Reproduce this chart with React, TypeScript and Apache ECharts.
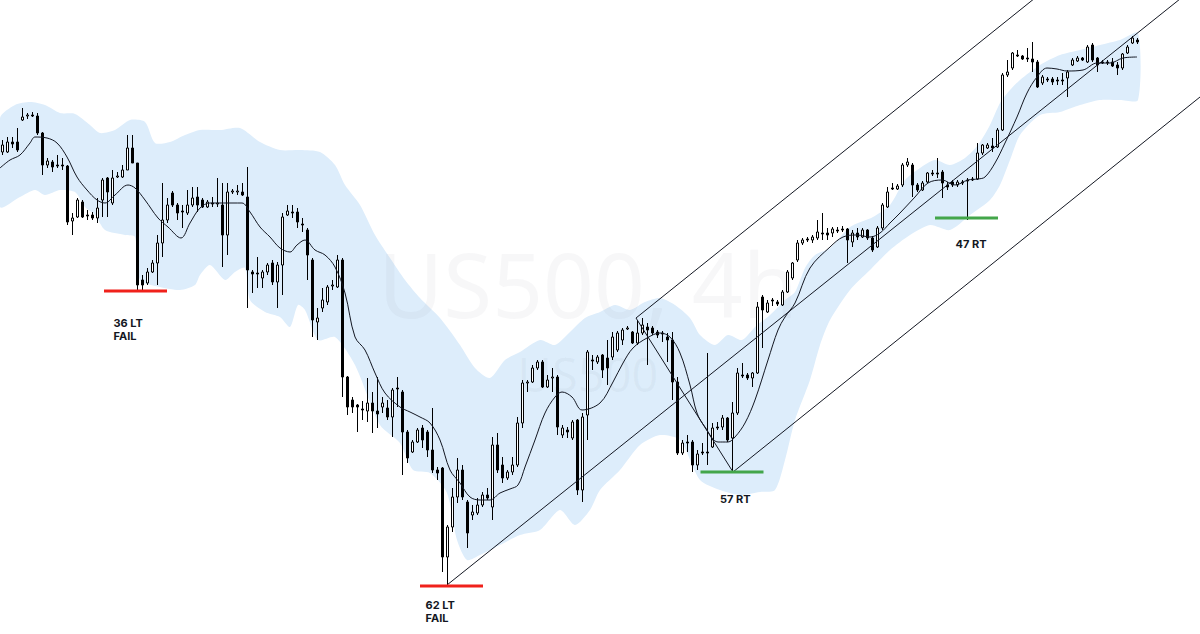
import React, { useEffect, useRef } from "react";
import * as echarts from "echarts";

// ---- Candles (US500, 4h) ----
const OPEN = [4448,4448,4458,4458,4480,4484,4485,4484,4467,4435,4438,4435,4435,4434,4379,4383,4398,4385,4385,4382,4400,4422,4397,4423,4423,4430,4452,4437,4320,4317,4328,4337,4357,4380,4407,4395,4389,4387,4395,4403,4400,4393,4397,4396,4395,4365,4408,4408,4408,4403,4328,4327,4322,4328,4337,4318,4335,4385,4388,4388,4376,4370,4340,4278,4292,4298,4314,4313,4340,4223,4200,4195,4191,4189,4197,4189,4193,4192,4183,4212,4208,4168,4148,4158,4172,4168,4150,4130,4132,4043,4073,4103,4130,4098,4085,4087,4095,4105,4093,4155,4135,4122,4128,4135,4177,4217,4218,4232,4238,4213,4222,4223,4165,4170,4162,4180,4110,4185,4240,4238,4245,4242,4243,4250,4260,4271,4268,4257,4267,4273,4272,4268,4267,4263,4260,4218,4147,4158,4158,4135,4148,4148,4153,4173,4173,4182,4162,4187,4225,4225,4222,4227,4303,4288,4300,4298,4295,4308,4322,4340,4357,4361,4360,4362,4367,4367,4367,4370,4371,4371,4358,4367,4363,4370,4362,4353,4372,4393,4412,4411,4415,4435,4435,4415,4410,4418,4427,4427,4428,4415,4418,4415,4418,4420,4421,4421,4447,4452,4454,4453,4470,4525,4532,4545,4544,4542,4541,4538,4517,4521,4521,4520,4520,4522,4535,4539,4542,4538,4555,4542,4538,4538,4538,4535,4532,4547,4557,4560];
const CLOSE = [4455,4458,4456,4450,4483,4485,4484,4467,4435,4439,4433,4434,4434,4378,4382,4400,4383,4384,4382,4392,4420,4408,4422,4424,4430,4452,4437,4315,4315,4328,4337,4357,4380,4395,4395,4387,4388,4395,4402,4395,4393,4398,4396,4397,4365,4408,4409,4409,4405,4330,4326,4326,4328,4335,4318,4335,4383,4389,4387,4378,4375,4345,4280,4282,4300,4313,4315,4340,4223,4193,4193,4193,4190,4197,4189,4186,4197,4183,4210,4211,4168,4142,4158,4170,4160,4150,4130,4127,4043,4073,4103,4130,4103,4067,4088,4095,4105,4102,4155,4130,4122,4128,4135,4177,4217,4218,4232,4238,4213,4220,4223,4173,4172,4168,4178,4110,4183,4248,4239,4243,4230,4232,4263,4267,4270,4272,4257,4267,4275,4270,4267,4265,4266,4260,4218,4147,4157,4157,4135,4146,4147,4147,4172,4172,4182,4160,4187,4227,4224,4222,4227,4293,4290,4297,4299,4296,4308,4328,4337,4357,4360,4360,4363,4368,4366,4365,4371,4369,4370,4360,4367,4363,4370,4362,4350,4372,4395,4408,4411,4414,4435,4438,4415,4410,4417,4427,4426,4426,4417,4413,4415,4418,4417,4419,4420,4447,4455,4455,4452,4470,4525,4528,4547,4544,4541,4541,4538,4513,4523,4520,4518,4519,4519,4528,4540,4542,4540,4553,4540,4535,4537,4537,4534,4532,4546,4553,4562,4558];
const LOW = [4445,4447,4452,4448,4479,4481,4483,4465,4425,4432,4428,4432,4430,4375,4365,4382,4382,4380,4380,4377,4383,4383,4395,4422,4422,4430,4437,4310,4310,4315,4327,4315,4343,4377,4393,4380,4372,4385,4393,4388,4392,4392,4393,4393,4333,4345,4406,4405,4404,4292,4307,4312,4312,4325,4315,4292,4305,4384,4382,4372,4368,4320,4263,4260,4288,4295,4310,4312,4203,4185,4187,4168,4180,4178,4167,4172,4187,4180,4163,4193,4125,4137,4147,4157,4152,4143,4127,4120,4028,4015,4068,4097,4100,4052,4080,4085,4093,4100,4080,4127,4117,4120,4125,4133,4172,4208,4217,4230,4212,4212,4208,4165,4162,4162,4160,4105,4098,4160,4230,4236,4222,4215,4240,4248,4255,4270,4256,4255,4265,4235,4265,4262,4258,4238,4200,4145,4145,4148,4128,4130,4145,4135,4152,4170,4170,4158,4128,4185,4222,4220,4213,4226,4252,4287,4294,4294,4294,4307,4320,4338,4355,4358,4357,4360,4360,4360,4363,4367,4368,4337,4353,4360,4362,4360,4348,4352,4370,4392,4410,4410,4413,4433,4403,4408,4409,4417,4424,4422,4402,4410,4413,4413,4415,4380,4419,4420,4445,4451,4448,4452,4469,4523,4530,4543,4540,4538,4528,4512,4515,4518,4515,4515,4515,4503,4534,4538,4539,4537,4538,4528,4536,4535,4533,4525,4530,4546,4556,4556];
const HIGH = [4460,4463,4463,4472,4492,4487,4488,4487,4468,4442,4440,4445,4442,4435,4387,4402,4400,4390,4388,4402,4422,4423,4430,4428,4435,4465,4465,4437,4325,4332,4340,4365,4417,4402,4409,4397,4395,4410,4413,4413,4402,4400,4403,4422,4417,4417,4411,4415,4417,4433,4330,4343,4330,4337,4340,4338,4387,4395,4395,4392,4382,4372,4342,4292,4312,4315,4320,4345,4342,4224,4203,4196,4199,4222,4208,4223,4203,4200,4212,4223,4210,4170,4160,4172,4175,4170,4192,4133,4133,4075,4112,4142,4135,4100,4095,4102,4108,4112,4163,4167,4143,4130,4143,4183,4220,4220,4235,4240,4240,4225,4232,4225,4175,4173,4180,4181,4187,4250,4245,4245,4246,4260,4268,4269,4272,4274,4269,4280,4282,4277,4274,4270,4269,4267,4268,4223,4160,4165,4160,4150,4157,4247,4177,4178,4185,4183,4198,4232,4237,4227,4228,4298,4305,4300,4302,4300,4310,4330,4338,4360,4362,4363,4365,4380,4387,4372,4373,4373,4374,4372,4370,4372,4372,4371,4364,4374,4397,4413,4417,4416,4437,4442,4437,4417,4419,4428,4430,4442,4430,4418,4420,4420,4420,4422,4423,4457,4456,4457,4462,4472,4527,4540,4548,4550,4545,4552,4558,4540,4525,4523,4523,4523,4527,4530,4542,4544,4543,4555,4557,4543,4540,4540,4542,4538,4547,4555,4564,4562];

// ---- Moving average line: [bar index, price] ----
const MA = [[-0.5,4432],[1.5,4440],[3.5,4445],[5.5,4457],[6.5,4463],[8.9,4462],[10.9,4457],[12.9,4443],[14.9,4423],[16.9,4410],[18.9,4400],[20.5,4397],[22.5,4405],[25.1,4415],[26.5,4412],[28.5,4400],[31.1,4382],[33.1,4373],[35.7,4362],[37.5,4377],[39.5,4392],[41.5,4397],[44.1,4397],[46.1,4397],[47.9,4397],[49.5,4388],[51.5,4373],[53.5,4363],[55.5,4352],[57.5,4348],[58.9,4355],[60.5,4360],[62.5,4350],[64.5,4345],[66.5,4333],[68.5,4307],[70.5,4263],[72.5,4250],[74.5,4227],[76.5,4207],[79.5,4193],[81.5,4188],[83.5,4183],[85.5,4177],[87.5,4160],[89.5,4130],[91.5,4117],[93.5,4103],[95.5,4100],[97.5,4100],[99.5,4107],[101.5,4111],[103.1,4115],[104.5,4133],[106.5,4160],[108.5,4187],[110.5,4203],[111.9,4208],[113.9,4203],[115.9,4190],[119.5,4197],[122.1,4218],[124.1,4237],[126.1,4252],[128.9,4262],[131.5,4267],[133.5,4263],[135.5,4247],[137.5,4215],[138.9,4187],[140.5,4173],[143.1,4158],[145.1,4158],[146.5,4163],[148.5,4177],[150.5,4200],[153.1,4240],[155.1,4270],[156.5,4283],[158.5,4297],[161.5,4332],[165.5,4353],[168.1,4363],[170.9,4365],[173.5,4363],[175.5,4367],[177.5,4377],[179.5,4387],[182.5,4403],[185.1,4417],[187.9,4420],[190.5,4415],[193.1,4420],[195.1,4421],[196.5,4423],[198.5,4437],[200.5,4457],[202.9,4483],[204.9,4507],[206.9,4523],[208.9,4532],[210.9,4531],[212.9,4529],[216.1,4530],[218.9,4537],[221.5,4537],[224.1,4542],[226.9,4543]];

// ---- Envelope band: [bar index, price] ----
const BAND_UPPER = [[-0.5,4482],[2.5,4495],[5.5,4498],[8.5,4495],[11.5,4487],[14.5,4486],[17.5,4475],[19.5,4467],[22.5,4470],[25.5,4480],[28.5,4478],[30.5,4457],[33.5,4458],[36.5,4465],[39.5,4470],[43.5,4470],[47.5,4472],[51.5,4458],[55.5,4450],[59.5,4450],[63.5,4448],[66.5,4435],[68.5,4415],[71.5,4395],[74.5,4365],[77.5,4342],[80.5,4320],[83.5,4302],[87.5,4282],[91.5,4255],[94.5,4232],[97.5,4222],[100.5,4240],[103.5,4248],[107.5,4260],[110.5,4255],[113.5,4268],[116.5,4282],[119.5,4288],[122.5,4295],[125.5,4290],[128.5,4298],[131.5,4302],[134.5,4295],[137.5,4282],[139.5,4265],[142.5,4255],[145.1,4265],[147.9,4260],[150.5,4273],[153.5,4285],[156.5,4300],[158.5,4308],[160.5,4332],[162.5,4345],[165.5,4352],[169.5,4373],[174.1,4383],[177.5,4395],[180.5,4420],[183.5,4432],[186.5,4440],[189.5,4435],[192.5,4442],[195.1,4455],[197.5,4475],[199.5,4497],[201.5,4510],[203.5,4520],[207.5,4535],[211.5,4545],[215.5,4550],[219.5,4555],[223.5,4560],[227.1,4567]];
const BAND_LOWER = [[-0.5,4393],[3.5,4403],[6.5,4410],[8.5,4405],[11.5,4410],[14.5,4408],[16.5,4393],[18.5,4385],[20.5,4370],[24.5,4365],[26.5,4363],[27.5,4320],[31.5,4313],[35.5,4310],[38.5,4315],[39.5,4325],[41.5,4335],[44.5,4320],[46.5,4328],[48.5,4332],[49.5,4300],[52.5,4288],[55.5,4283],[57.5,4273],[59.1,4295],[60.5,4290],[63.1,4260],[66.5,4263],[70.5,4235],[75.5,4175],[79.5,4157],[82.1,4130],[85.5,4127],[88.9,4107],[90.9,4060],[92.9,4040],[95.5,4045],[99.5,4055],[103.5,4065],[107.5,4070],[111.5,4090],[114.5,4075],[117.5,4090],[119.5,4110],[123.5,4130],[127.5,4155],[131.5,4165],[135.5,4160],[139.5,4120],[143.5,4110],[147.5,4105],[151.5,4108],[154.5,4110],[156.5,4140],[158.5,4180],[161.5,4220],[163.5,4255],[165.5,4280],[169.5,4310],[173.5,4330],[177.5,4350],[181.5,4365],[185.5,4375],[189.5,4370],[193.5,4385],[197.5,4400],[199.5,4415],[201.5,4440],[203.5,4465],[207.5,4485],[211.5,4488],[215.5,4495],[219.5,4500],[223.5,4500],[227.1,4500]];

// ---- Trend lines: [x1, y1, x2, y2] in bar index / price ----
const TREND_LINES = [
  [126.7, 4282, 210, 4616],
  [88.9, 4015, 239.5, 4617],
  [146.1, 4128, 239.5, 4503],
  [126.7, 4282, 146.1, 4128],
];

// ---- Level markers ----
const LEVEL_INDEX = [26.6, 89.8, 145.9, 192.8];
const LEVEL_PRICE = [4309, 4014, 4128, 4382];
const LEVEL_LABEL = ["36 LT\nFAIL", "62 LT\nFAIL", "57 RT", "47 RT"];
const LEVEL_KIND = ["fail", "fail", "hold", "hold"];

const WATERMARK = ["US500, 4h", "US500"];

const LABEL_OFFSET = [[-22, 25], [-26, 12], [-12, 20], [-11, 19]];

export default function App() {
  const ref = useRef<HTMLDivElement>(null);
  useEffect(() => {
    document.body.style.margin = "0";
    const chart = echarts.init(ref.current!, null, { renderer: "svg" });
    const nCats = 240;
    const cats = Array.from({ length: nCats }, (_, i) => String(i));
    const candles = OPEN.map((o, i) => [o, CLOSE[i], LOW[i], HIGH[i]]);

    const option: any = {
      animation: false,
      backgroundColor: "#ffffff",
      grid: { left: 0, right: 0, top: 0, bottom: 0, containLabel: false },
      xAxis: [
        { type: "category", data: cats, boundaryGap: true, show: false },
        { type: "value", min: -0.5, max: nCats - 0.5, show: false },
      ],
      yAxis: { type: "value", min: 3966, max: 4600, show: false, splitLine: { show: false } },
      graphic: [
        {
          type: "text", x: 588, y: 283, z: 2, silent: true,
          style: { text: WATERMARK[0], font: '400 89px "Noto Sans"', lineHeight: 86, fill: "rgba(120,125,140,0.06)", align: "center", verticalAlign: "middle" },
        },
        {
          type: "text", x: 588, y: 374, z: 2, silent: true,
          style: { text: WATERMARK[1], font: '400 47px "Noto Sans"', lineHeight: 46, fill: "rgba(120,125,140,0.06)", align: "center", verticalAlign: "middle" },
        },
      ],
      series: [
        {
          type: "custom", name: "band", xAxisIndex: 1, yAxisIndex: 0, z: 1, silent: true,
          data: [[0, 4300]],
          renderItem: (params: any, api: any) => {
            const up = BAND_UPPER.map((p) => api.coord(p));
            const lo = BAND_LOWER.slice().reverse().map((p) => api.coord(p));
            return { type: "polygon", shape: { points: up.concat(lo), smooth: 0.25 }, style: { fill: "#ddedfb" } };
          },
        },
        {
          type: "candlestick", name: "US500", xAxisIndex: 0, yAxisIndex: 0, z: 5,
          data: candles, barWidth: 3,
          itemStyle: { color: "#ffffff", color0: "#000000", borderColor: "#000000", borderColor0: "#000000", borderWidth: 1 },
        },
        {
          type: "line", name: "MA", xAxisIndex: 1, yAxisIndex: 0, z: 6,
          data: MA, showSymbol: false, smooth: 0.35,
          lineStyle: { color: "#131722", width: 1 },
        },
        {
          type: "custom", name: "trend", xAxisIndex: 1, yAxisIndex: 0, z: 7, silent: true, clip: false,
          data: TREND_LINES,
          encode: { x: [0, 2], y: [1, 3] },
          renderItem: (params: any, api: any) => {
            const a = api.coord([api.value(0), api.value(1)]);
            const b = api.coord([api.value(2), api.value(3)]);
            return { type: "line", shape: { x1: a[0], y1: a[1], x2: b[0], y2: b[1] }, style: { stroke: "#131722", lineWidth: 1 } };
          },
        },
        {
          type: "custom", name: "levels", xAxisIndex: 1, yAxisIndex: 0, z: 8, silent: true, clip: false,
          data: LEVEL_INDEX.map((x, i) => [x, LEVEL_PRICE[i]]),
          renderItem: (params: any, api: any) => {
            const i = params.dataIndex;
            const c = api.coord([api.value(0), api.value(1)]);
            const color = LEVEL_KIND[i] === "fail" ? "#f0211b" : "#43a64a";
            const off = LABEL_OFFSET[i];
            return {
              type: "group",
              children: [
                { type: "line", shape: { x1: c[0] - 31.5, y1: c[1], x2: c[0] + 31.5, y2: c[1] }, style: { stroke: color, lineWidth: 3 } },
                {
                  type: "text", x: c[0] + off[0], y: c[1] + off[1],
                  style: { text: LEVEL_LABEL[i], fill: "#131722", font: 'bold 11px Inter, "Noto Sans", sans-serif', align: "left", verticalAlign: "top", lineHeight: 13 },
                },
              ],
            };
          },
        },
      ],
    };
    chart.setOption(option);
    return () => chart.dispose();
  }, []);
  return <div ref={ref} style={{ width: 1200, height: 634 }} />;
}
